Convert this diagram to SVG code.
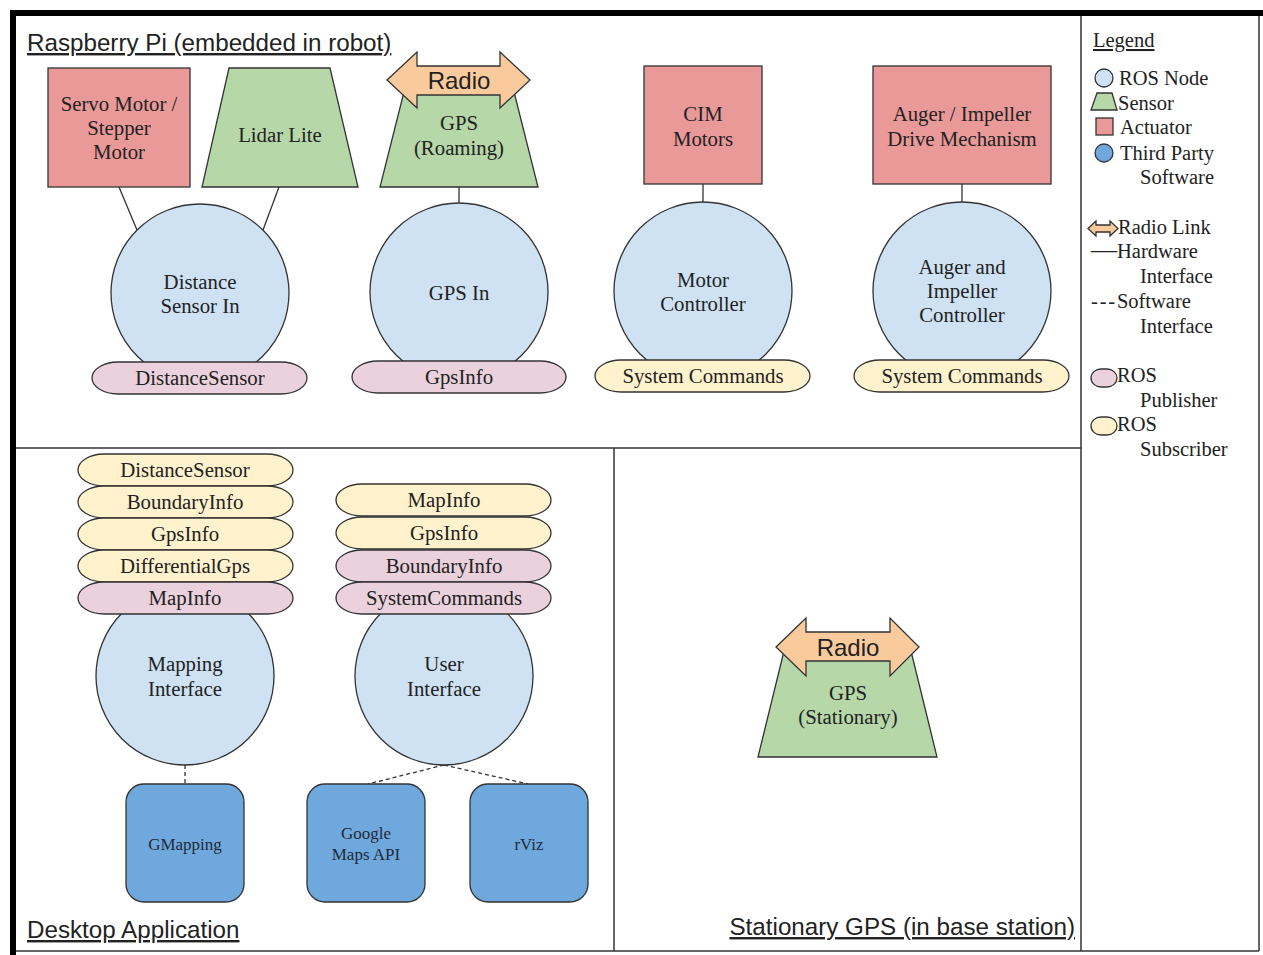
<svg xmlns="http://www.w3.org/2000/svg" width="1263" height="955" viewBox="0 0 1263 955">
<style>
.frame{stroke:#333;stroke-width:1.5;fill:none}
.hw{stroke:#333;stroke-width:1.3;fill:none}
.sw{stroke:#333;stroke-width:1.3;fill:none;stroke-dasharray:4 3}
.act{fill:#ea9999;stroke:#333;stroke-width:1.3}
.sen{fill:#b6d7a8;stroke:#333;stroke-width:1.3}
.ros{fill:#cfe2f3;stroke:#333;stroke-width:1.3}
.tp{fill:#6fa8dc;stroke:#333;stroke-width:1.3}
.pub{fill:#ead1dc;stroke:#333;stroke-width:1.3}
.sub{fill:#fff2cc;stroke:#333;stroke-width:1.3}
.radio{fill:#f9cb9c;stroke:#333;stroke-width:1.3}
.t{font-family:"Liberation Serif",serif;font-size:20.8px;fill:#222;text-anchor:middle}
.ts{font-family:"Liberation Serif",serif;font-size:17px;fill:#1e2a38;text-anchor:middle}
.lg{font-family:"Liberation Serif",serif;font-size:20.5px;fill:#222}
.h{font-family:"Liberation Sans",Arial,sans-serif;font-size:24.2px;fill:#222;text-decoration:underline}
.rt{font-family:"Liberation Sans",Arial,sans-serif;font-size:24px;fill:#222;text-anchor:middle}
</style>
<rect width="1263" height="955" fill="#fff"/>
<g id="frame">
<rect x="10" y="10" width="1253" height="6" fill="#000"/>
<rect x="10" y="10" width="6" height="945" fill="#000"/>
<line class="frame" x1="1259" y1="16" x2="1259" y2="951"/>
<line class="frame" x1="16" y1="951" x2="1259" y2="951"/>
<line class="frame" x1="1081" y1="16" x2="1081" y2="951"/>
<line class="frame" x1="16" y1="448" x2="1081" y2="448"/>
<line class="frame" x1="614" y1="448" x2="614" y2="951"/>
<text class="h" x="27" y="51">Raspberry Pi (embedded in robot)</text>
<text class="h" x="27" y="938">Desktop Application</text>
<text class="h" x="1075" y="935" text-anchor="end">Stationary GPS (in base station)</text>
</g>
<g id="connectors">
<line class="hw" x1="119" y1="187" x2="137" y2="230"/>
<line class="hw" x1="279" y1="187" x2="263" y2="230"/>
<line class="hw" x1="459" y1="187" x2="459" y2="204"/>
<line class="hw" x1="703" y1="184" x2="703" y2="202"/>
<line class="hw" x1="962" y1="184" x2="962" y2="202"/>
<line class="sw" x1="185" y1="765" x2="185" y2="784"/>
<line class="sw" x1="444" y1="765" x2="368" y2="784"/>
<line class="sw" x1="444" y1="765" x2="528" y2="784"/>
</g>
<g id="servo">
<rect class="act" x="48" y="68" width="142" height="119"/>
<text class="t" x="119" y="111">Servo Motor /</text>
<text class="t" x="119" y="135">Stepper</text>
<text class="t" x="119" y="159">Motor</text>
</g>
<g id="lidar">
<polygon class="sen" points="229,68 330,68 358,187 202,187"/>
<text class="t" x="280" y="142">Lidar Lite</text>
</g>
<g id="gps-roaming">
<polygon class="sen" points="407,80 511,80 538,187 380,187"/>
<polygon class="radio" points="387,80 417,52 417,66 500,66 500,52 530,80 500,108 500,95 417,95 417,108"/>
<text class="rt" x="459" y="89">Radio</text>
<text class="t" x="459" y="130">GPS</text>
<text class="t" x="459" y="155">(Roaming)</text>
</g>
<g id="cim">
<rect class="act" x="644" y="66" width="118" height="118"/>
<text class="t" x="703" y="121">CIM</text>
<text class="t" x="703" y="146">Motors</text>
</g>
<g id="auger-drive">
<rect class="act" x="873" y="66" width="178" height="118"/>
<text class="t" x="962" y="121">Auger / Impeller</text>
<text class="t" x="962" y="146">Drive Mechanism</text>
</g>
<g id="distance-sensor-in">
<circle class="ros" cx="200" cy="293" r="89"/>
<text class="t" x="200" y="289">Distance</text>
<text class="t" x="200" y="313">Sensor In</text>
<rect class="pub" x="92" y="362" width="215" height="32" rx="26" ry="16"/>
<text class="t" x="200" y="385">DistanceSensor</text>
</g>
<g id="gps-in">
<circle class="ros" cx="459" cy="292" r="89"/>
<text class="t" x="459" y="300">GPS In</text>
<rect class="pub" x="352" y="361" width="214" height="32" rx="26" ry="16"/>
<text class="t" x="459" y="384">GpsInfo</text>
</g>
<g id="motor-controller">
<circle class="ros" cx="703" cy="291" r="89"/>
<text class="t" x="703" y="287">Motor</text>
<text class="t" x="703" y="311">Controller</text>
<rect class="sub" x="595" y="360" width="215" height="32" rx="26" ry="16"/>
<text class="t" x="703" y="383">System Commands</text>
</g>
<g id="auger-controller">
<circle class="ros" cx="962" cy="291" r="89"/>
<text class="t" x="962" y="274">Auger and</text>
<text class="t" x="962" y="298">Impeller</text>
<text class="t" x="962" y="322">Controller</text>
<rect class="sub" x="854" y="360" width="215" height="32" rx="26" ry="16"/>
<text class="t" x="962" y="383">System Commands</text>
</g>
<g id="mapping-interface">
<circle class="ros" cx="185" cy="676" r="89"/>
<text class="t" x="185" y="671">Mapping</text>
<text class="t" x="185" y="696">Interface</text>
<rect class="sub" x="78" y="454" width="215" height="32" rx="26" ry="16"/>
<text class="t" x="185" y="477">DistanceSensor</text>
<rect class="sub" x="78" y="486" width="215" height="32" rx="26" ry="16"/>
<text class="t" x="185" y="509">BoundaryInfo</text>
<rect class="sub" x="78" y="518" width="215" height="32" rx="26" ry="16"/>
<text class="t" x="185" y="541">GpsInfo</text>
<rect class="sub" x="78" y="550" width="215" height="32" rx="26" ry="16"/>
<text class="t" x="185" y="573">DifferentialGps</text>
<rect class="pub" x="78" y="582" width="215" height="32" rx="26" ry="16"/>
<text class="t" x="185" y="605">MapInfo</text>
</g>
<g id="user-interface">
<circle class="ros" cx="444" cy="676" r="89"/>
<text class="t" x="444" y="671">User</text>
<text class="t" x="444" y="696">Interface</text>
<rect class="sub" x="336" y="484" width="215" height="32" rx="26" ry="16"/>
<text class="t" x="444" y="507">MapInfo</text>
<rect class="sub" x="336" y="517" width="215" height="32" rx="26" ry="16"/>
<text class="t" x="444" y="540">GpsInfo</text>
<rect class="pub" x="336" y="550" width="215" height="32" rx="26" ry="16"/>
<text class="t" x="444" y="573">BoundaryInfo</text>
<rect class="pub" x="336" y="582" width="215" height="32" rx="26" ry="16"/>
<text class="t" x="444" y="605">SystemCommands</text>
</g>
<g id="gmapping">
<rect class="tp" x="126" y="784" width="118" height="118" rx="18"/>
<text class="ts" x="185" y="850">GMapping</text>
</g>
<g id="google-maps">
<rect class="tp" x="307" y="784" width="118" height="118" rx="18"/>
<text class="ts" x="366" y="839">Google</text>
<text class="ts" x="366" y="860">Maps API</text>
</g>
<g id="rviz">
<rect class="tp" x="470" y="784" width="118" height="118" rx="18"/>
<text class="ts" x="529" y="850">rViz</text>
</g>
<g id="gps-stationary">
<polygon class="sen" points="785,647 910,647 937,757 758,757"/>
<polygon class="radio" points="776,647 806,618 806,632 890,632 890,618 919,647 890,676 890,661 806,661 806,676"/>
<text class="rt" x="848" y="656">Radio</text>
<text class="t" x="848" y="700">GPS</text>
<text class="t" x="848" y="724">(Stationary)</text>
</g>
<g id="legend">
<text class="lg" x="1093" y="47" text-decoration="underline">Legend</text>
<circle class="ros" cx="1104" cy="78" r="9"/>
<text class="lg" x="1119" y="85">ROS Node</text>
<polygon class="sen" points="1097,93 1112,93 1117,110 1091,110"/>
<text class="lg" x="1118" y="110">Sensor</text>
<rect class="act" x="1096" y="118" width="17" height="17"/>
<text class="lg" x="1120" y="134">Actuator</text>
<circle class="tp" cx="1104" cy="153" r="9"/>
<text class="lg" x="1120" y="160">Third Party</text>
<text class="lg" x="1140" y="184">Software</text>
<polygon class="radio" points="1088,228.5 1096,221 1096,225 1110,225 1110,221 1118,228.5 1110,236 1110,232 1096,232 1096,236"/>
<text class="lg" x="1118" y="234">Radio Link</text>
<text class="lg" x="1091" y="258"><tspan font-size="26px">—</tspan>Hardware</text>
<text class="lg" x="1140" y="283">Interface</text>
<text class="lg" x="1091" y="308"><tspan letter-spacing="1.8">---</tspan>Software</text>
<text class="lg" x="1140" y="333">Interface</text>
<rect class="pub" x="1091" y="369" width="26" height="18" rx="10" ry="9"/>
<text class="lg" x="1117" y="382">ROS</text>
<text class="lg" x="1140" y="407">Publisher</text>
<rect class="sub" x="1091" y="417" width="26" height="18" rx="10" ry="9"/>
<text class="lg" x="1117" y="431">ROS</text>
<text class="lg" x="1140" y="456">Subscriber</text>
</g>
</svg>
